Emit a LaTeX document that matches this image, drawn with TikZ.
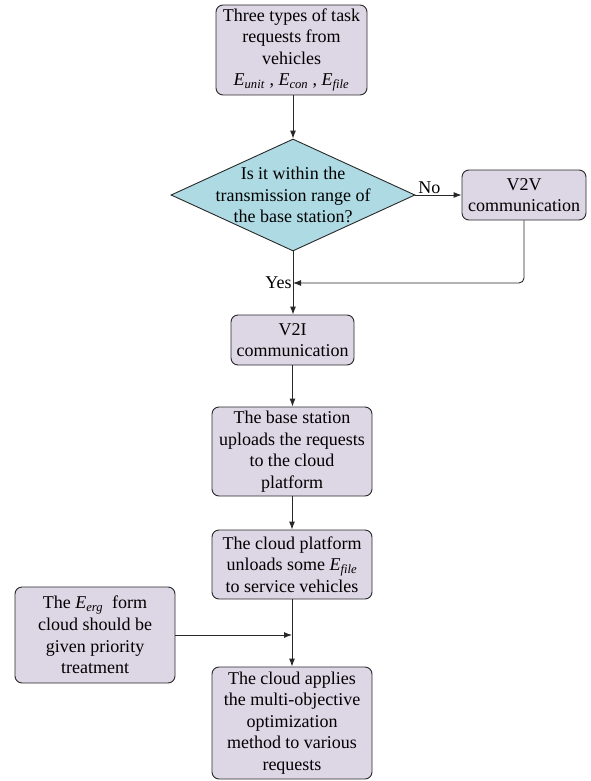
\documentclass[tikz,border=0pt]{standalone}
\usepackage{fontspec}
\setmainfont{Liberation Serif}
\newfontfamily\tnr{Liberation Serif}
\usetikzlibrary{shapes.geometric,arrows.meta}
\newcommand\Esb[1]{\textit{E}\textsubscript{\textit{#1}}}
\definecolor{boxfill}{RGB}{221,214,229}
\definecolor{diafill}{RGB}{174,218,228}
\definecolor{linec}{RGB}{40,40,40}
\tikzset{
  box/.style={draw=linec, line width=0.9pt, fill=boxfill, rounded corners=7pt, align=center, inner sep=2pt, font=\tnr\fontsize{18}{21.6}\selectfont},
  conn/.style={draw=linec, line width=0.9pt, -{Latex[length=8pt,width=6pt]}},
  lbl/.style={font=\tnr\fontsize{18}{21.6}\selectfont, inner sep=1pt}
}
\begin{document}
\begin{tikzpicture}[x=1pt,y=1pt]
\useasboundingbox (0,0) rectangle (591,-781);
\node[box, minimum width=151pt, minimum height=90pt] (req) at (291.5,-50) {Three types of task\\requests from\\vehicles\\\Esb{unit} , \Esb{con} , \Esb{file}};
\node[diamond, draw=linec, line width=0.9pt, fill=diafill, minimum width=244pt, minimum height=112pt, inner sep=0pt] (dia) at (293,-195) {};
\node[align=center, font=\tnr\fontsize{18}{21.6}\selectfont] (diat) at (dia.center) {Is it within the\\transmission range of\\the base station?};
\node[box, minimum width=124pt, minimum height=50pt] (v2v) at (524,-195) {V2V\\communication};
\node[box, minimum width=123pt, minimum height=50pt] (v2i) at (292.5,-340) {V2I\\communication};
\node[box, minimum width=160pt, minimum height=89pt] (bs) at (292,-451.5) {The base station\\uploads the requests\\to the cloud\\platform};
\node[box, minimum width=160pt, minimum height=69pt] (cp) at (292,-564.5) {The cloud platform\\unloads some \Esb{file}\\to service vehicles};
\node[box, minimum width=160pt, minimum height=96pt] (erg) at (95,-635) {The \Esb{erg}\ \ form\\cloud should be\\given priority\\treatment};
\node[box, minimum width=160pt, minimum height=112pt] (ca) at (292,-723) {The cloud applies\\the multi-objective\\optimization\\method to various\\requests};
\coordinate (merge) at (293,-283);
\coordinate (join) at (292,-635);
\draw[conn] (req.south -| dia.north) -- (dia.north);
\draw[conn] (dia.east) -- node[lbl, above, pos=0.3] {No} (v2v.west);
\draw[conn, rounded corners=5pt] (v2v.south) |- (merge);
\draw[conn] (dia.south) -- node[lbl, left, pos=0.5] {Yes} (v2i.north -| dia.south);
\draw[conn] (v2i.south) -- (bs.north -| v2i.south);
\draw[conn] (bs.south) -- (cp.north);
\draw[conn] (cp.south) -- (ca.north);
\draw[conn] (erg.east |- join) -- (join);
\end{tikzpicture}
\end{document}
